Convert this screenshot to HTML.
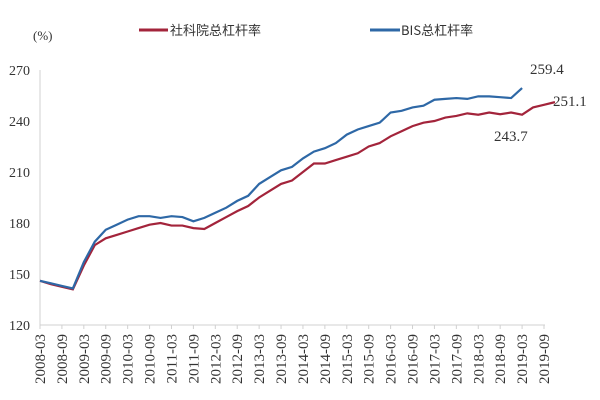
<!DOCTYPE html>
<html><head><meta charset="utf-8"><style>
body{margin:0;background:#fff}
svg{display:block}
text{font-family:"Liberation Serif","Noto Serif CJK SC",serif;fill:#333}
</style></head><body>
<svg id="c" width="600" height="400" viewBox="0 0 600 400">
<text x="33" y="40" font-size="13">(%)</text>
<line x1="139" y1="30" x2="168" y2="30" stroke="#a3243b" stroke-width="3"/>
<text x="170" y="35" font-size="13" style="font-family:'Noto Sans CJK SC',sans-serif" fill="#666">社科院总杠杆率</text>
<line x1="370" y1="30" x2="400" y2="30" stroke="#2e68a6" stroke-width="3"/>
<text x="401" y="35" font-size="13" style="font-family:'Noto Sans CJK SC',sans-serif" fill="#666">BIS总杠杆率</text>
<g font-size="14" text-anchor="end">
<text x="30" y="75">270</text><text x="30" y="126">240</text><text x="30" y="177">210</text>
<text x="30" y="228">180</text><text x="30" y="279">150</text><text x="30" y="330">120</text>
</g>
<line x1="40" y1="70" x2="40" y2="325" stroke="#d0d0d0"/>
<line x1="40" y1="325" x2="545" y2="325" stroke="#d0d0d0"/>
<g id="ticks"></g>
<polyline id="red" fill="none" stroke="#a3243b" stroke-width="2.2"/>
<polyline id="blue" fill="none" stroke="#2e68a6" stroke-width="2.2"/>
<text x="530" y="74" font-size="15">259.4</text>
<text x="553" y="106" font-size="15">251.1</text>
<text x="494" y="141" font-size="15">243.7</text>
</svg>
<script>
var blue=[146,144.5,143,141.5,157,169,176,179,182,184,184,183,184,183.5,181,183,186,189,193,196,203,207,211,213,218,222,224,227,232,235,237,239,245,246,248,249,252.5,253,253.5,253,254.5,254.5,254,253.5,259.4];
var red=[146,144,142.5,141,155,167,171,173,175,177,179,180,178.5,178.5,177,176.5,180,183.5,187,190,195,199,203,205,210,215,215,217,219,221,225,227,231,234,237,239,240,242,243,244.5,243.7,245,244,245,243.7,248,249.5,251.1];
function X(i){return 40+i*504/46}
function Y(v){return 325-(v-120)*1.7}
document.getElementById('blue').setAttribute('points',blue.map((v,i)=>X(i)+','+Y(v)).join(' '));
document.getElementById('red').setAttribute('points',red.map((v,i)=>X(i)+','+Y(v)).join(' '));
var g=document.getElementById('ticks'),s='';
var labs=[];for(var y=2008;y<=2019;y++){labs.push(y+'-03');labs.push(y+'-09');}
for(var k=0;k<24;k++){var x=40+k*504/23;s+='<line x1="'+x+'" y1="325" x2="'+x+'" y2="329" stroke="#d0d0d0"/>';
s+='<text font-size="15" fill="#444" text-anchor="end" transform="translate('+(x+5)+',334) rotate(-90)">'+labs[k]+'</text>';}
g.innerHTML=s;
</script>
</body></html>
